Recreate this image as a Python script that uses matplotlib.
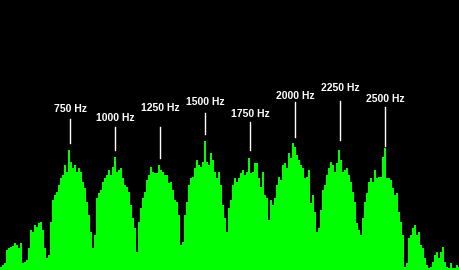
import numpy as np
import matplotlib
matplotlib.use("Agg")
import matplotlib.pyplot as plt

# Spectrum magnitudes (relative units), one value per frequency bin
magnitudes = [
    3, 5, 7, 20, 22, 23, 24, 27, 25, 22, 27, 7, 8, 10, 22, 40, 38, 45, 43, 47,
    48, 40, 22, 12, 15, 48, 70, 75, 78, 85, 92, 95, 105, 98, 120, 108, 102, 105, 98,
    102, 98, 88, 82, 68, 55, 38, 22, 35, 72, 77, 80, 88, 92, 95, 100, 95, 103, 113,
    98, 100, 102, 92, 85, 83, 78, 65, 52, 42, 18, 48, 62, 72, 78, 90, 95, 103, 98,
    97, 97, 105, 100, 98, 95, 95, 87, 88, 80, 70, 68, 55, 25, 28, 55, 68, 85, 92,
    93, 102, 110, 105, 103, 108, 129, 108, 105, 117, 110, 98, 92, 98, 85, 65, 52,
    38, 62, 70, 85, 92, 88, 92, 97, 100, 95, 98, 112, 97, 98, 107, 107, 92, 83, 98,
    75, 72, 50, 70, 65, 72, 85, 93, 90, 105, 107, 102, 117, 112, 127, 123, 115, 110,
    105, 102, 92, 93, 100, 67, 75, 58, 38, 42, 60, 80, 85, 95, 102, 108, 105, 98,
    107, 120, 110, 98, 100, 102, 95, 88, 78, 68, 47, 40, 35, 52, 68, 77, 88, 92, 88,
    100, 92, 93, 93, 113, 122, 92, 92, 90, 82, 75, 77, 58, 48, 35, 3, 7, 32, 35, 42,
    45, 35, 38, 25, 22, 12, 5, 2, 3, 8, 15, 18, 12, 18, 23, 8, 3, 2, 7, 2, 2, 5, 3,
]
freq_start = 361.1          # Hz at left edge
bin_width = 11.111          # Hz per bin

tone_freqs = [750, 1000, 1250, 1500, 1750, 2000, 2250, 2500]
tone_labels = ["750 Hz", "1000 Hz", "1250 Hz", "1500 Hz", "1750 Hz", "2000 Hz", "2250 Hz", "2500 Hz"]
# marker line bottom/top and label height (same units as magnitudes)
line_bottom = [127, 120, 112, 136, 120, 133, 130, 124]
line_top = [151, 143, 143, 157, 148, 168, 169, 163]
label_y = [161, 152, 162, 168, 156, 174, 182, 171]

fig = plt.figure(figsize=(4.6, 2.7), dpi=100, facecolor="black")
ax = fig.add_axes([0, 0, 1, 1])
ax.set_facecolor("black")

n = len(magnitudes)
centers = freq_start + (np.arange(n) + 0.5) * bin_width
ax.bar(centers, magnitudes, width=bin_width * 1.05, color="#00ff00",
       linewidth=0, antialiased=False)

for f, lab, yb, yt, ly in zip(tone_freqs, tone_labels, line_bottom, line_top, label_y):
    ax.plot([f, f], [yb, yt], color="white", linewidth=1.0)
    ax.text(f, ly, lab, color="white", fontsize=7.5, fontweight="bold",
            family=["Liberation Sans", "DejaVu Sans"], ha="center", va="center")

ax.set_xlim(freq_start, freq_start + 460 / 2 * bin_width)
ax.set_ylim(0, 270)
ax.axis("off")
fig.savefig("out.png", dpi=100, facecolor="black")
